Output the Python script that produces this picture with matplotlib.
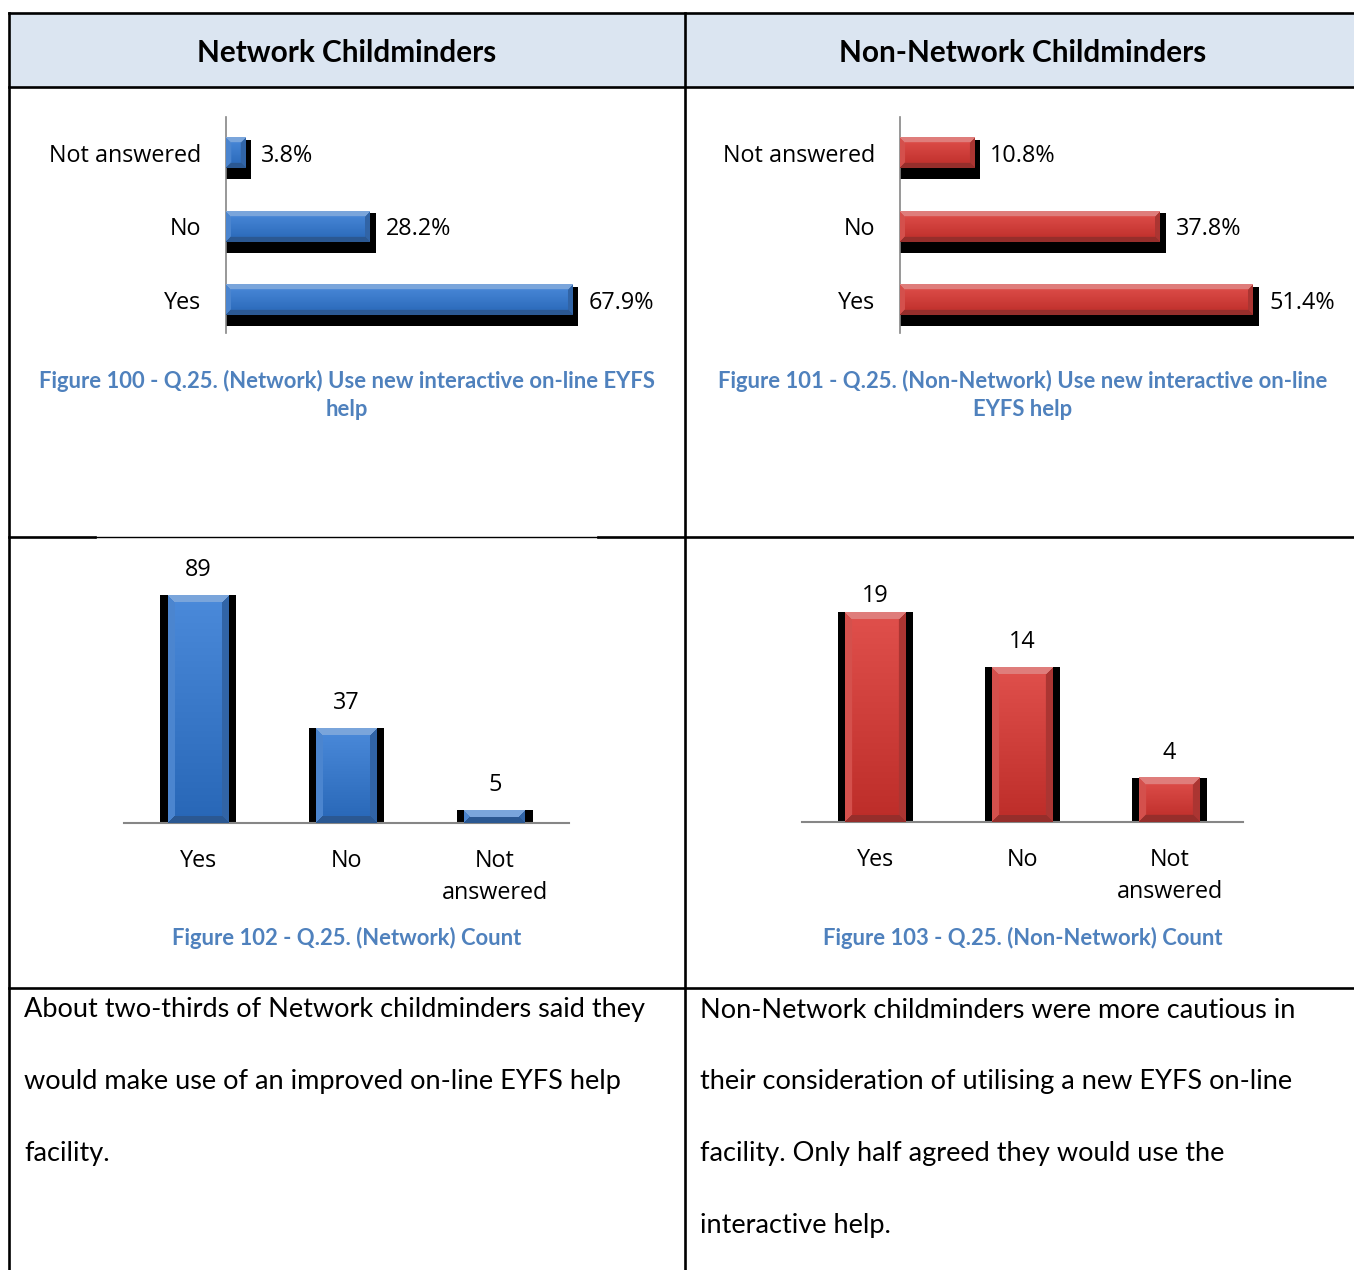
import matplotlib.pyplot as plt
import numpy as np
from matplotlib.colors import to_rgb

plt.rcParams['font.family'] = ['Open Sans', 'DejaVu Sans']

W, H = 1354, 1270

# answers, bottom to top in the bar charts
categories = ['Yes', 'No', 'Not answered']
count_labels = ['Yes', 'No', 'Not\nanswered']

net_pct = [67.9, 28.2, 3.8]
non_pct = [51.4, 37.8, 10.8]
net_count = [89, 37, 5]
non_count = [19, 14, 4]

headers = ['Network Childminders', 'Non-Network Childminders']
pct_captions = ['Figure 100 - Q.25. (Network) Use new interactive on-line EYFS\nhelp',
                'Figure 101 - Q.25. (Non-Network) Use new interactive on-line\nEYFS help']
count_captions = ['Figure 102 - Q.25. (Network) Count',
                  'Figure 103 - Q.25. (Non-Network) Count']
notes = [
    ['About two-thirds of Network childminders said they',
     'would make use of an improved on-line EYFS help',
     'facility.'],
    ['Non-Network childminders were more cautious in',
     'their consideration of utilising a new EYFS on-line',
     'facility. Only half agreed they would use the',
     'interactive help.'],
]

BLUE = '#3c7bcb'
RED = '#d1413d'
CAPTION = '#4f81bd'
HEADER_BG = '#dbe5f1'
DOC_FONT = ['Lato', 'DejaVu Sans']

fig = plt.figure(figsize=(W / 100, H / 100), dpi=100)


def px_axes(x0, y0, x1, y1):
    # axes placed by pixel box, measured from the top-left corner
    return fig.add_axes([x0 / W, 1 - y1 / H, (x1 - x0) / W, (y1 - y0) / H])


def px_to_data(ax, dx, dy):
    inv = ax.transData.inverted()
    x0, y0 = inv.transform((0, 0))
    x1, y1 = inv.transform((dx, dy))
    return x1 - x0, y1 - y0


def mix(c, other, t):
    return c + (other - c) * t


def bevel_image(w, h, color, bevel):
    # pyramid-style bevel: light top face, dark bottom face, shaded ends
    w = max(int(round(w)), 1)
    h = max(int(round(h)), 1)
    yy, xx = np.mgrid[0:h, 0:w] + 0.5
    d = np.stack([yy, h - yy, xx, w - xx])
    face = d.argmin(axis=0)
    near = d.min(axis=0) < bevel
    base = np.array(to_rgb(color))
    white, black = np.ones(3), np.zeros(3)
    faces = np.array([mix(base, white, 0.32), mix(base, black, 0.28),
                      mix(base, white, 0.08), mix(base, black, 0.18)])
    # slight vertical fade on the flat front face
    fade = np.linspace(0.06, -0.08, h)[:, None, None]
    flat = np.clip(base[None, None, :] + fade, 0, 1) * np.ones((h, w, 3))
    img = np.where(near[..., None], faces[face], flat)
    return np.clip(img, 0, 1)


def shade(ax, bars, color, bevel):
    for b in bars:
        ext = b.get_window_extent()
        img = bevel_image(ext.width, ext.height, color, bevel)
        x, y = b.get_x(), b.get_y()
        ax.imshow(img, extent=(x, x + b.get_width(), y, y + b.get_height()),
                  origin='upper', aspect='auto', zorder=4, interpolation='bilinear')


def pct_chart(box, values, color, xmax):
    ax = px_axes(*box)
    ax.set_facecolor('none')
    pos = np.arange(len(categories))
    ax.set_xlim(0, xmax)
    ax.set_ylim(-0.45, 2.49)
    h = 0.41
    ex, ey = px_to_data(ax, 6, 11)
    _, gap = px_to_data(ax, 0, 2)
    bottom = pos - h / 2 - ey
    top = pos + h / 2 - gap
    ax.barh(bottom, [v + ex for v in values], height=top - bottom,
            align='edge', color='black', zorder=2)
    bars = ax.barh(pos, values, height=h, color=color, zorder=3)
    shade(ax, bars, color, 5)
    for p, v in zip(pos, values):
        ax.annotate(f'{v:.1f}%', (v, p), xytext=(16, -3), textcoords='offset pixels',
                    ha='left', va='center', fontsize=16.8)
    ax.set_xlim(0, xmax)
    ax.set_ylim(-0.45, 2.49)
    ax.set_yticks(pos, categories, fontsize=16.8)
    ax.tick_params(axis='y', length=0, pad=18)
    ax.set_xticks([])
    for s in ['top', 'right', 'bottom']:
        ax.spines[s].set_visible(False)
    ax.spines['left'].set_color('#868686')
    ax.spines['left'].set_linewidth(1.2)
    return ax


def count_chart(box, values, color, ymax):
    ax = px_axes(*box)
    ax.set_facecolor('none')
    pos = np.arange(len(categories))
    ax.set_xlim(-0.5, 2.5)
    ax.set_ylim(0, ymax)
    w = 0.41
    ax.bar(pos, values, width=w + 0.1, color='black', zorder=2)
    bars = ax.bar(pos, values, width=w, color=color, zorder=3)
    shade(ax, bars, color, 7)
    _, off = px_to_data(ax, 0, 25)
    for p, v in zip(pos, values):
        # labels are kept inside the plot area
        ax.text(p, min(v + off, ymax), str(v), ha='center', va='center',
                fontsize=16.8)
    ax.set_xlim(-0.5, 2.5)
    ax.set_ylim(0, ymax)
    ax.set_xticks(pos, count_labels, fontsize=16.8, linespacing=1.45)
    ax.tick_params(axis='x', length=0, pad=19)
    ax.set_yticks([])
    for s in ['top', 'right', 'left']:
        ax.spines[s].set_visible(False)
    ax.spines['bottom'].set_color('#868686')
    ax.spines['bottom'].set_linewidth(1.5)
    return ax


# the surrounding document table
bg = fig.add_axes([0, 0, 1, 1])
bg.set_xlim(0, W)
bg.set_ylim(H, 0)
bg.axis('off')
bg.fill_between([9, W], 13, 87, color=HEADER_BG, lw=0)
lw = 1.9
bg.plot([9, W], [13, 13], color='black', lw=lw)
bg.plot([9, W], [87, 87], color='black', lw=lw)
bg.plot([9, 95], [537, 537], color='black', lw=lw)
bg.plot([95, 598], [537, 537], color='black', lw=1.0)
bg.plot([598, W], [537, 537], color='black', lw=lw)
bg.plot([9, W], [988, 988], color='black', lw=lw)
bg.plot([9, 9], [13, H], color='black', lw=lw)
bg.plot([685, 685], [13, H], color='black', lw=lw)

centres = [347, 1023]
for cx, head, cap1, cap2 in zip(centres, headers, pct_captions, count_captions):
    bg.text(cx, 53.5, head, ha='center', va='center', fontsize=21.4, fontweight='bold',
            family=DOC_FONT)
    bg.text(cx, 395, cap1, ha='center', va='center', fontsize=15.8, fontweight='bold',
            color=CAPTION, family=DOC_FONT, linespacing=1.42)
    bg.text(cx, 938, cap2, ha='center', va='center', fontsize=15.8, fontweight='bold',
            color=CAPTION, family=DOC_FONT)

for x0, lines in zip([24, 700], notes):
    for i, line in enumerate(lines):
        bg.text(x0, 1010 + i * 71.7, line, ha='left', va='center', fontsize=19.5,
                family=DOC_FONT)

pct_chart((226, 117, 634, 333), net_pct, BLUE, 80)
pct_chart((900, 117, 1312, 333), non_pct, RED, 60)
count_chart((124, 567, 569, 823), net_count, BLUE, 100)
count_chart((802, 596, 1243, 822), non_count, RED, 20.45)

fig.savefig('out.png', dpi=100)
